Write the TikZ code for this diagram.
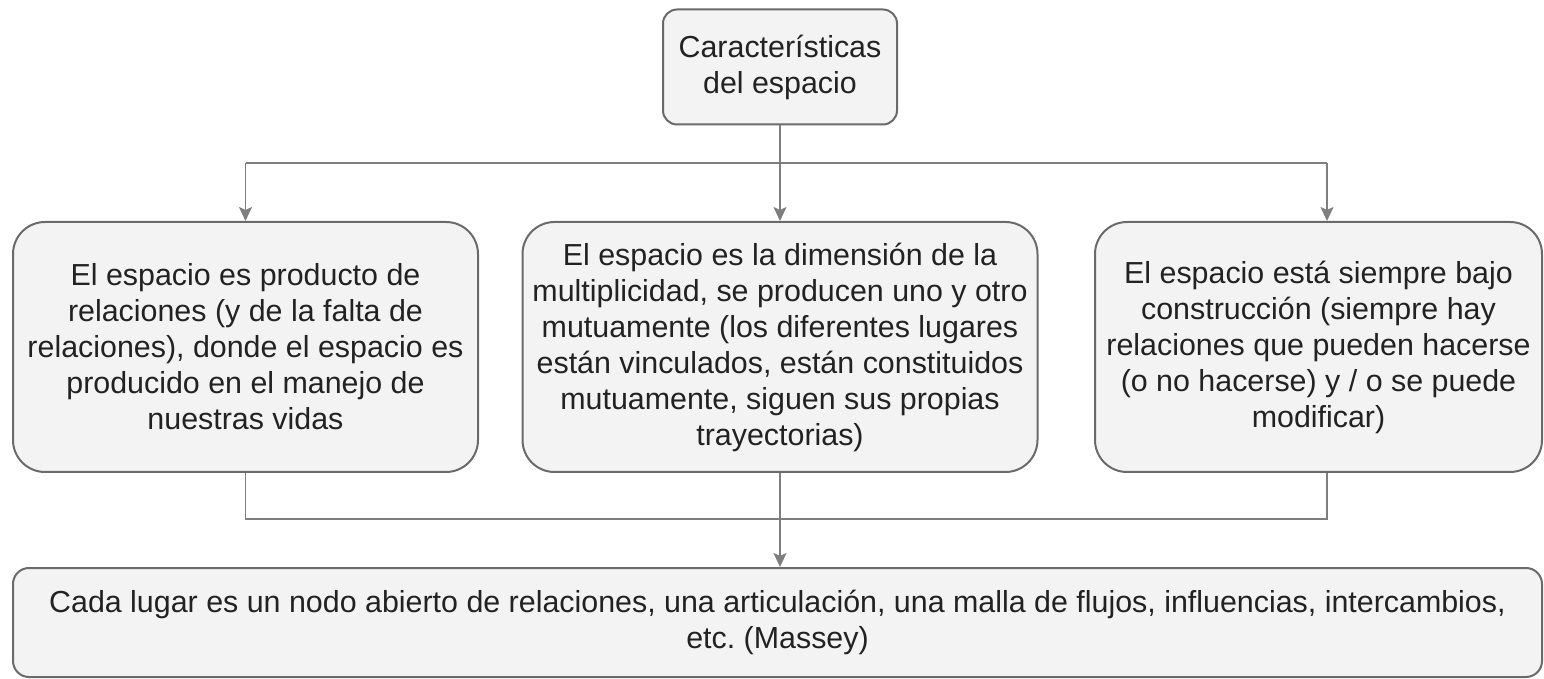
\documentclass[tikz,border=0pt]{standalone}
\usepackage{fontspec}
\setmainfont{Liberation Sans}
\usepackage{xcolor}
\usepackage{tikz}
\usetikzlibrary{arrows.meta,calc,positioning}
\frenchspacing

\definecolor{boxfill}{HTML}{F3F3F3}
\definecolor{boxline}{HTML}{6A6A6A}
\definecolor{connline}{HTML}{7E7E7E}
\definecolor{textgray}{HTML}{222222}

\begin{document}
\begin{tikzpicture}[
    x=0.5pt,y=-0.5pt,
    every node/.style={font=\fontsize{15.2}{18}\selectfont,align=center,text=textgray},
    box/.style={
        rounded corners=16pt,
        draw=boxline,
        fill=boxfill,
        line width=1pt,
        inner sep=0pt
    },
    line/.style={draw=connline,line width=0.8pt},
    arrow/.style={line,-{Stealth[length=7pt,width=6.5pt,inset=1.5pt]}}
]
\useasboundingbox (0,0) rectangle (1544,679);

% Title
\node[box, rounded corners=7pt, minimum width=117pt, minimum height=57.5pt] (title) at (780,67)
{Características\\del espacio};

% Three characteristics
\node[box, minimum width=232.5pt, minimum height=125pt] (rel) at (245.5,347)
{El espacio es producto de\\
relaciones (y de la falta de\\
relaciones), donde el espacio es\\
producido en el manejo de\\
nuestras vidas};

\node[box, minimum width=257.5pt, minimum height=125pt] (mult) at (780,347)
{El espacio es la dimensión de la\\
multiplicidad, se producen uno y otro\\
mutuamente (los diferentes lugares\\
están vinculados, están constituidos\\
mutuamente, siguen sus propias\\
trayectorias)};

\node[box, minimum width=223.5pt, minimum height=125pt] (cons) at (1318.5,347)
{El espacio está siempre bajo\\
construcción (siempre hay\\
relaciones que pueden hacerse\\
(o no hacerse) y / o se puede\\
modificar)};

% Conclusion
\node[box, rounded corners=8pt, minimum width=764.5pt, minimum height=54.5pt] (massey) at (777.5,622.5)
{Cada lugar es un nodo abierto de relaciones, una articulación, una malla de flujos, influencias, intercambios,\\
etc. (Massey)};

% Bus points
\coordinate (busL) at (245.5,163);
\coordinate (busR) at (1327,163);
\coordinate (joinL) at (245.5,519);
\coordinate (joinR) at (1327,519);

% Relations
\draw[line] (busL) -- (busR);
\draw[arrow] (title.south) -- (mult.north);
\draw[arrow] (busL) -- (rel.north);
\draw[arrow] (busR) -- (busR |- cons.north);
\draw[line] (rel.south) -- (joinL) -- (joinR) -- (joinR |- cons.south);
\draw[arrow] (mult.south) -- (mult.south |- massey.north);

\end{tikzpicture}
\end{document}
